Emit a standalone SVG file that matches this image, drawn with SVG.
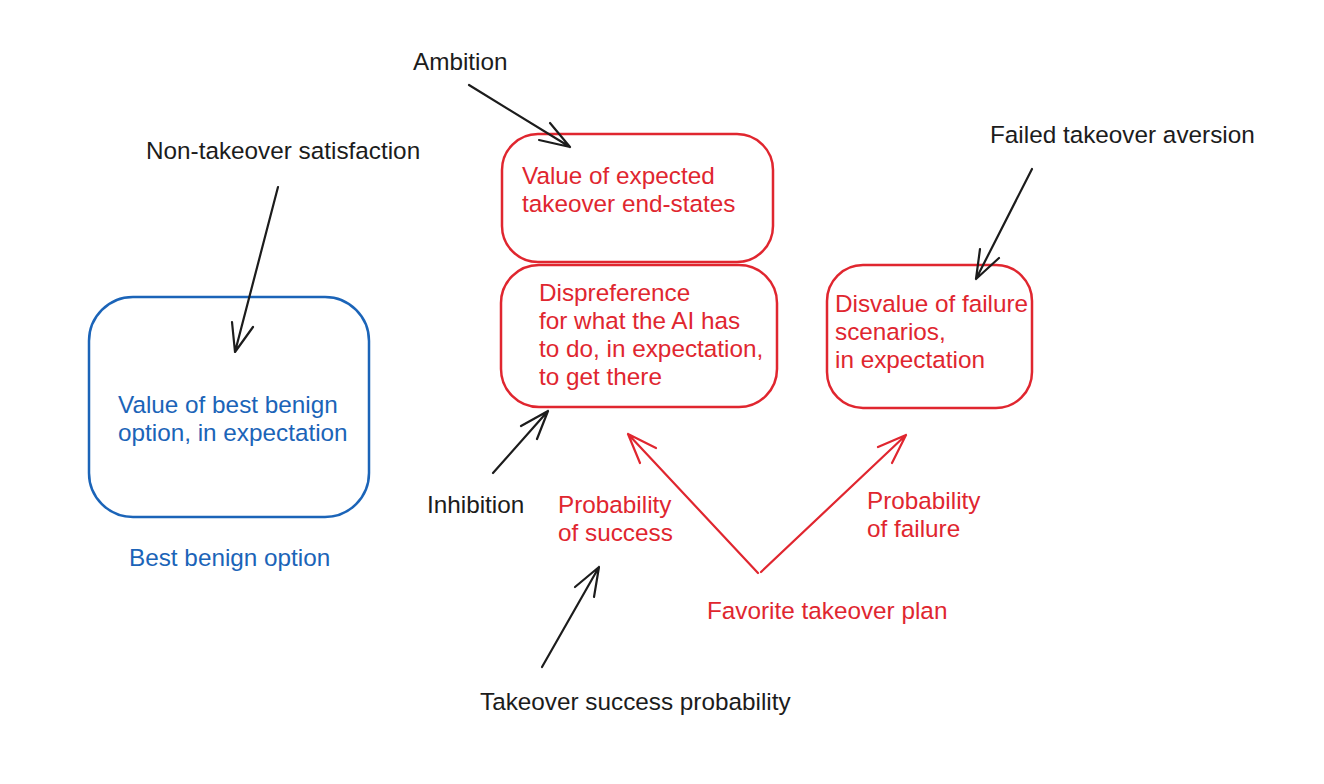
<svg xmlns="http://www.w3.org/2000/svg" width="1324" height="784" viewBox="0 0 1324 784">
<style>
text{font-family:"Liberation Sans",Arial,Helvetica,sans-serif;font-size:24.3px}
.k{fill:#1c1c1c}
.r{fill:#e0262f}
.b{fill:#1b64b8}
.box-r{fill:none;stroke:#e0262f;stroke-width:2.5}
.box-b{fill:none;stroke:#1b64b8;stroke-width:2.5}
.ak{fill:none;stroke:#1c1c1c;stroke-width:2.2;stroke-linecap:round;stroke-linejoin:round}
.ar{fill:none;stroke:#e0262f;stroke-width:2.2;stroke-linecap:round;stroke-linejoin:round}
</style>
<rect width="1324" height="784" fill="#ffffff"/>

<g id="benign-value">
<rect class="box-b" x="89" y="297" width="280" height="220" rx="44"/>
<text class="b" x="118" y="413">Value of best benign</text>
<text class="b" x="118" y="441">option, in expectation</text>
</g>
<g id="best-benign-label"><text class="b" x="129" y="566">Best benign option</text></g>

<g id="takeover-endstates">
<rect class="box-r" x="502" y="134" width="271" height="128" rx="36"/>
<text class="r" x="522" y="184">Value of expected</text>
<text class="r" x="522" y="212">takeover end-states</text>
</g>
<g id="dispreference">
<rect class="box-r" x="501" y="265" width="276" height="142" rx="38"/>
<text class="r" x="539" y="301">Dispreference</text>
<text class="r" x="539" y="329">for what the AI has</text>
<text class="r" x="539" y="357">to do, in expectation,</text>
<text class="r" x="539" y="385">to get there</text>
</g>
<g id="failure-disvalue">
<rect class="box-r" x="827" y="265" width="205" height="143" rx="36"/>
<text class="r" x="835" y="312">Disvalue of failure</text>
<text class="r" x="835" y="340">scenarios,</text>
<text class="r" x="835" y="368">in expectation</text>
</g>

<g id="ambition"><text class="k" x="413" y="70">Ambition</text></g>
<g id="non-takeover-satisfaction"><text class="k" x="146" y="159">Non-takeover satisfaction</text></g>
<g id="failed-takeover-aversion"><text class="k" x="990" y="143">Failed takeover aversion</text></g>
<g id="inhibition"><text class="k" x="427" y="513">Inhibition</text></g>
<g id="takeover-success-probability"><text class="k" x="480" y="710">Takeover success probability</text></g>
<g id="prob-success"><text class="r" x="558" y="513">Probability</text><text class="r" x="558" y="541">of success</text></g>
<g id="prob-failure"><text class="r" x="867" y="509">Probability</text><text class="r" x="867" y="537">of failure</text></g>
<g id="favorite-plan"><text class="r" x="707" y="619">Favorite takeover plan</text></g>

<g id="connectors">
<path class="ak" d="M469 85 L570 147 M550 123 L570 147 L539 140"/>
<path class="ak" d="M278 187 L235 352 M232 322 L235 352 L253 327"/>
<path class="ak" d="M1032 169 L976 279 M980 249 L976 279 L999 258"/>
<path class="ak" d="M493 473 L548 411 M521 426 L548 411 L537 439"/>
<path class="ak" d="M542 667 L599 567 M575 587 L599 567 L594 597"/>
<path class="ar" d="M758 573 L628 434 M656 448 L628 434 L640 463"/>
<path class="ar" d="M761 572 L906 435 M878 447 L906 435 L892 463"/>
</g>
</svg>
